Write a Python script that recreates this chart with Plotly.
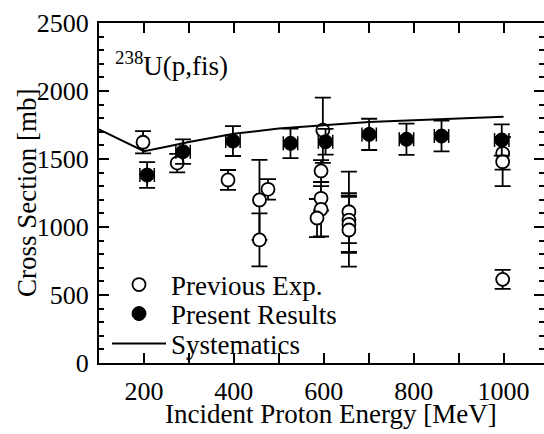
import plotly.graph_objects as go

# ---- data ----
prev_E = [198, 274, 387, 457, 457, 476, 598, 594, 594, 594, 585, 656, 656, 656, 656, 998, 998, 998]
prev_xs = [1623, 1470, 1346, 1199, 905, 1277, 1712, 1412, 1211, 1130, 1066, 1112, 1051, 1020, 978, 1542, 1480, 615]
prev_err = [82, 68, 73, 294, 195, 75, 240, 80, 90, 200, 140, 295, 170, 210, 270, 120, 180, 70]

pres_E = [207, 287, 398, 526, 604, 701, 784, 862, 996]
pres_xs = [1382, 1554, 1632, 1615, 1627, 1681, 1645, 1669, 1640]
pres_err = [95, 90, 110, 108, 95, 115, 115, 113, 115]
pres_xerr = [16, 16, 16, 16, 16, 16, 16, 16, 16]

sys_E = [100, 150, 200, 250, 300, 400, 500, 600, 700, 800, 900, 1000]
sys_xs = [1718, 1636, 1558, 1590, 1625, 1685, 1725, 1748, 1772, 1785, 1796, 1810]

x_ticks = [200, 400, 600, 800, 1000]
y_ticks = [0, 500, 1000, 1500, 2000, 2500]

W, H = 544, 434
ML, MR, MT, MB = 99, 0, 23, 71
PW, PH = W - ML - MR, H - MT - MB
FONT = "Liberation Serif"


def px_x(px):
    return (px - ML) / PW


def px_y(py):
    return (H - MB - py) / PH


fig = go.Figure()

fig.add_trace(go.Scatter(
    x=prev_E, y=prev_xs, mode="markers", name="Previous Exp.",
    marker=dict(symbol="circle", size=13, color="white", line=dict(color="black", width=1.8)),
    error_y=dict(type="data", array=prev_err, visible=True, color="black", thickness=1.8, width=8),
    legend="legend",
))
fig.add_trace(go.Scatter(
    x=pres_E, y=pres_xs, mode="markers", name="Present Results",
    marker=dict(symbol="circle", size=14, color="black", line=dict(color="black", width=1)),
    error_y=dict(type="data", array=pres_err, visible=True, color="black", thickness=1.8, width=8),
    error_x=dict(type="data", array=pres_xerr, visible=True, color="black", thickness=1.5, width=7),
    legend="legend2",
))
fig.add_trace(go.Scatter(
    x=sys_E, y=sys_xs, mode="lines", name="Systematics",
    line=dict(color="black", width=2),
    legend="legend3",
))

leg_common = dict(xref="paper", yref="paper", xanchor="left", yanchor="middle",
                  bgcolor="rgba(0,0,0,0)", borderwidth=0, itemwidth=54,
                  font=dict(family=FONT, size=27, color="black"))
x_leg = px_x(107)

fig.update_layout(
    width=W, height=H,
    margin=dict(l=ML, r=MR, t=MT, b=MB, autoexpand=False),
    plot_bgcolor="white", paper_bgcolor="white",
    font=dict(family=FONT, size=26, color="black"),
    showlegend=True,
    legend=dict(x=x_leg, y=px_y(285), **leg_common),
    legend2=dict(x=x_leg, y=px_y(314), **leg_common),
    legend3=dict(x=x_leg, y=px_y(344), **leg_common),
    xaxis=dict(
        range=[100, 1090], showline=True, linecolor="black", linewidth=2, mirror="allticks",
        ticks="inside", ticklen=10, tickwidth=1.5, tickcolor="black",
        tickvals=x_ticks, ticktext=[str(v) for v in x_ticks], tickangle=0,
        minor=dict(ticks="inside", ticklen=5, tickwidth=1.5, tickcolor="black", dtick=100, tick0=0, showgrid=False),
        showgrid=False, zeroline=False, ticklabelstandoff=4,
        tickfont=dict(family=FONT, size=26, color="black"),
    ),
    yaxis=dict(
        range=[0, 2500], showline=True, linecolor="black", linewidth=2, mirror=False,
        ticks="inside", ticklen=10, tickwidth=1.5, tickcolor="black",
        tickvals=y_ticks, ticktext=[str(v) for v in y_ticks],
        minor=dict(ticks="inside", ticklen=5, tickwidth=1.5, tickcolor="black", dtick=100, tick0=0, showgrid=False),
        showgrid=False, zeroline=False, ticklabelstandoff=3,
        tickfont=dict(family=FONT, size=26, color="black"),
    ),
    yaxis2=dict(
        range=[0, 2500], overlaying="y", side="right", anchor="x", showline=False,
        ticks="inside", ticklen=10, tickwidth=1.5, tickcolor="black",
        tickvals=y_ticks, showticklabels=False, showgrid=False, zeroline=False,
        minor=dict(ticks="inside", ticklen=5, tickwidth=1.5, tickcolor="black", dtick=100, tick0=0, showgrid=False),
    ),
    annotations=[
        dict(text="<sup>238</sup>U(p,fis)", xref="paper", yref="paper",
             x=px_x(113), y=px_y(64), xanchor="left", yanchor="middle",
             showarrow=False, font=dict(family=FONT, size=27, color="black")),
        dict(text="Incident Proton Energy [MeV]", xref="paper", yref="paper",
             x=px_x(331), y=px_y(414), xanchor="center", yanchor="middle",
             showarrow=False, font=dict(family=FONT, size=27, color="black")),
        dict(text="Cross Section [mb]", xref="paper", yref="paper",
             x=px_x(27), y=px_y(193), xanchor="center", yanchor="middle", textangle=-90,
             showarrow=False, font=dict(family=FONT, size=27, color="black")),
    ],
)

# empty trace so the right-hand tick axis is built
fig.add_trace(go.Scatter(x=[], y=[], yaxis="y2", showlegend=False, hoverinfo="skip"))

fig.write_html("out.html")
